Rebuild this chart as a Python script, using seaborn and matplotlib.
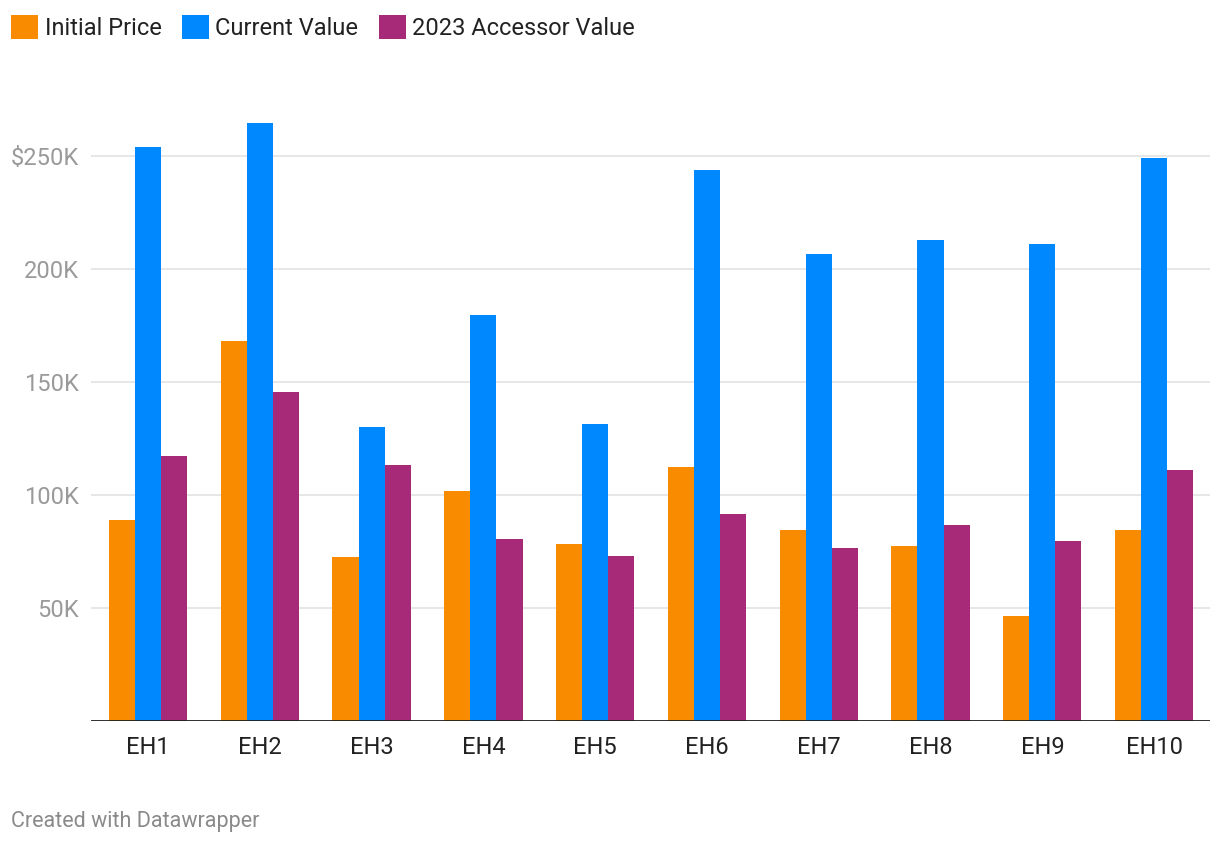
import pandas as pd
import seaborn as sns
import matplotlib.pyplot as plt
from matplotlib.patches import Patch
from matplotlib.ticker import FuncFormatter

# values (USD)
houses = ["EH1", "EH2", "EH3", "EH4", "EH5", "EH6", "EH7", "EH8", "EH9", "EH10"]
initial_price = [89000, 168000, 72500, 101700, 78300, 112400, 84600, 77400, 46500, 84600]
current_value = [254100, 264800, 130000, 179500, 131300, 243700, 206500, 212700, 210900, 249300]
accessor_2023 = [117200, 145600, 113300, 80400, 73000, 91600, 76500, 86800, 79700, 111100]

series_names = ["Initial Price", "Current Value", "2023 Accessor Value"]
colors = ["#F88B00", "#0088FE", "#A62A77"]

df = pd.DataFrame({
    "house": houses * 3,
    "series": [series_names[0]] * 10 + [series_names[1]] * 10 + [series_names[2]] * 10,
    "value": initial_price + current_value + accessor_2023,
})

sns.set_style("white")
plt.rcParams["font.family"] = ["Roboto", "DejaVu Sans"]

fig = plt.figure(figsize=(12.2, 8.44), dpi=100)
ax = fig.add_axes([0.0746, 0.1457, 0.9172, 0.7230])

sns.barplot(data=df, x="house", y="value", hue="series", order=houses,
            hue_order=series_names, palette=colors, saturation=1,
            width=0.7, gap=0, linewidth=0, errorbar=None, legend=False, ax=ax)

ax.set_ylim(0, 270000)
ax.set_xlim(-0.51, 9.5)
ax.set_yticks([50000, 100000, 150000, 200000, 250000])
ax.yaxis.set_major_formatter(FuncFormatter(
    lambda v, p: ("$" if v >= 250000 else "") + f"{int(v / 1000)}K"))
ax.grid(axis="y", color="#E5E5E5", linewidth=1.3)
ax.set_axisbelow(True)
ax.axhline(0, color="#1d1d1d", linewidth=2, zorder=5)
for s in ax.spines.values():
    s.set_visible(False)
ax.tick_params(axis="y", length=0, pad=9, labelsize=17, labelcolor="#9a9a9a")
ax.tick_params(axis="x", length=0, pad=11, labelsize=17, labelcolor="#222222")
ax.set_xlabel("")
ax.set_ylabel("")

handles = [Patch(facecolor=c, edgecolor="none") for c in colors]
fig.legend(handles, series_names, loc="upper left", bbox_to_anchor=(0.009, 0.982),
           ncol=3, frameon=False, fontsize=17, handlelength=1.15, handleheight=1.15,
           handletextpad=0.28, columnspacing=0.85, labelcolor="#222222",
           borderaxespad=0, borderpad=0)

fig.text(0.009, 0.02, "Created with Datawrapper", fontsize=15.5, color="#8a8a8a")

fig.savefig("out.png", dpi=100)
